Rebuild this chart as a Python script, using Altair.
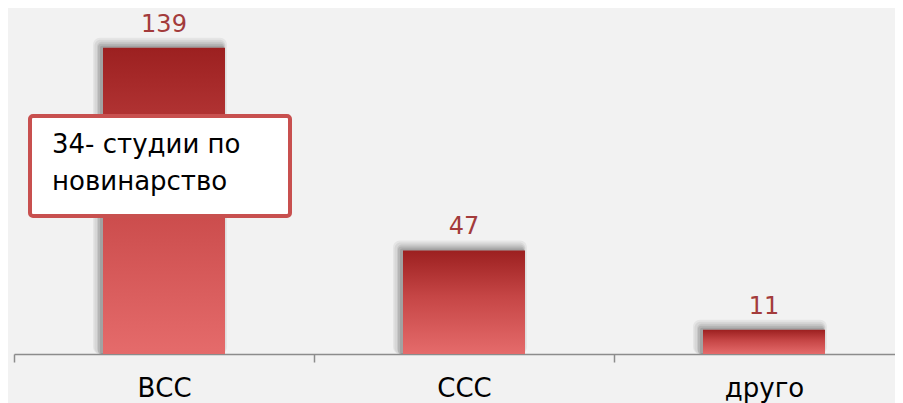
import altair as alt
import pandas as pd

categories = ["ВСС", "ССС", "друго"]
values = [139, 47, 11]
note_lines = ["34- студии по", "новинарство"]

df = pd.DataFrame({"cat": categories, "val": values})
note_df = pd.DataFrame({"t": [0]})

FONT = "DejaVu Sans"

xenc = alt.X(
    "cat:N", sort=categories, title=None,
    scale=alt.Scale(paddingInner=0, paddingOuter=0, range=[0, 900]),
    axis=alt.Axis(
        labelAngle=0, labelFontSize=26, labelColor="#000000", labelFont=FONT,
        labelBaseline="alphabetic",
        domainColor="#8c8c8c", domainWidth=1.5, tickColor="#8c8c8c", tickWidth=1.5,
        tickSize=8, tickBand="extent", labelPadding=34, grid=False,
    ),
)
yenc = alt.Y("val:Q", stack=None, scale=alt.Scale(domain=[0, 157]), axis=None)
y2enc = alt.Y2(datum=0)

base = alt.Chart(df)

shadow_specs = [
    (134, -4, -10, 0.05, 7),
    (131, -4, -8, 0.06, 6),
    (128, -3, -6, 0.07, 5),
    (126, -3, -4, 0.09, 3),
    (124, -2, -2, 0.10, 2),
]
shadows = [
    base.mark_bar(size=s, color="#000000", opacity=o, xOffset=dx, yOffset=dy, cornerRadius=r)
    .encode(x=xenc, y=yenc, y2=y2enc)
    for (s, dx, dy, o, r) in shadow_specs
]

grad = alt.Gradient(
    gradient="linear",
    stops=[
        alt.GradientStop(color="#9c2020", offset=0),
        alt.GradientStop(color="#c64646", offset=0.45),
        alt.GradientStop(color="#e56b6b", offset=1),
    ],
    x1=0, x2=0, y1=0, y2=1,
)

bars = base.mark_bar(size=122, color=grad).encode(x=xenc, y=yenc, y2=y2enc)

labels = base.mark_text(
    baseline="alphabetic", dy=-16, fontSize=24, color="#a33b3b", font=FONT
).encode(x=xenc, y=yenc, text="val:Q")

note_box = alt.Chart(note_df).mark_rect(
    fill="#ffffff", stroke="#c8504f", strokeWidth=4, cornerRadius=3
).encode(x=alt.value(16), x2=alt.value(276), y=alt.value(108), y2=alt.value(208))

note1 = alt.Chart(note_df).mark_text(
    align="left", baseline="alphabetic", fontSize=26, color="#000000", font=FONT
).encode(x=alt.value(38), y=alt.value(145), text=alt.value(note_lines[0]))

note2 = alt.Chart(note_df).mark_text(
    align="left", baseline="alphabetic", fontSize=26, color="#000000", font=FONT
).encode(x=alt.value(38), y=alt.value(182), text=alt.value(note_lines[1]))

chart = alt.layer(*shadows, bars, labels, note_box, note1, note2).properties(
    width=881, height=346,
    autosize=alt.AutoSizeParams(type="none"),
    padding={"left": 6, "top": 0, "right": 0, "bottom": 49},
    background="#f2f2f2",
).configure_view(stroke=None)

chart.save("out.html", embed_options={"renderer": "svg", "actions": False})
